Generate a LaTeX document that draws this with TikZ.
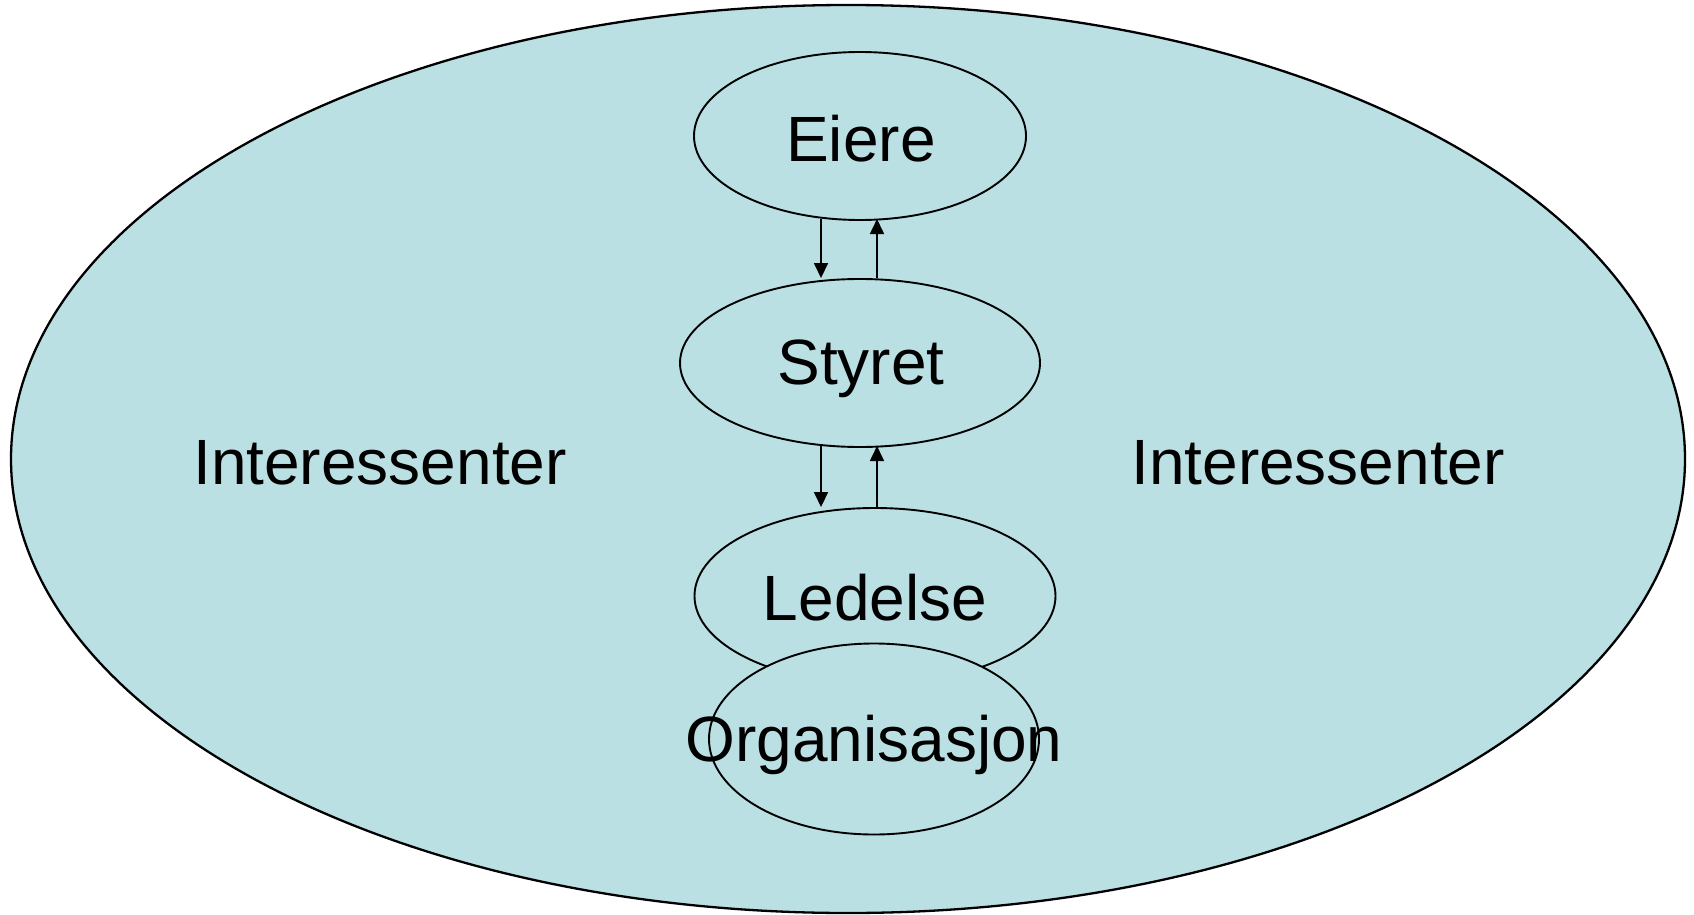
\documentclass[tikz,border=0pt]{standalone}
\usepackage{fontspec}
\setmainfont{Liberation Sans}
\usetikzlibrary{shapes.geometric,arrows.meta}
\definecolor{paleblue}{RGB}{186,224,227}
\tikzset{
  oval/.style={ellipse, draw=black, line width=1.9pt, fill=paleblue, inner sep=0pt},
  lbl/.style={font=\fontsize{64}{77}\selectfont, inner sep=0pt, anchor=center},
  flow/.style={line width=1.6pt, -{Triangle[length=15pt,width=14pt]}}
}
\begin{document}
\begin{tikzpicture}[x=1pt,y=-1pt]
\useasboundingbox (0,0) rectangle (1694,915);
\node[oval, line width=2.3pt, minimum width=1674pt, minimum height=908pt] (world) at (848,459) {};
\node[oval, minimum width=332pt, minimum height=168pt] (eiere) at (860,136) {};
\node[oval, minimum width=360pt, minimum height=168pt] (styret) at (860,363) {};
\node[oval, minimum width=361pt, minimum height=176pt] (ledelse) at (875,596) {};
\node[oval, minimum width=330pt, minimum height=191pt] (org) at (874,739) {};
\node[lbl] (teiere) at (861,139) {Eiere};
\node[lbl] (tstyret) at (861,369) {Styret};
\node[lbl] (tledelse) at (875,598) {Ledelse};
\node[lbl] (torg) at (874,745) {Organisasjon};
\node[lbl] (left) at (380,463) {Interessenter};
\node[lbl] (right) at (1318,463) {Interessenter};
\coordinate (d1) at (821,219);
\coordinate (u1) at (877,219);
\coordinate (d2) at (821,446);
\coordinate (u2) at (877,446);
\draw[flow] (d1) -- (d1 |- styret.north);
\draw[flow] (u1 |- styret.north) -- (u1);
\draw[flow] (d2) -- (d2 |- ledelse.north);
\draw[flow] (u2 |- ledelse.north) -- (u2);
\end{tikzpicture}
\end{document}
